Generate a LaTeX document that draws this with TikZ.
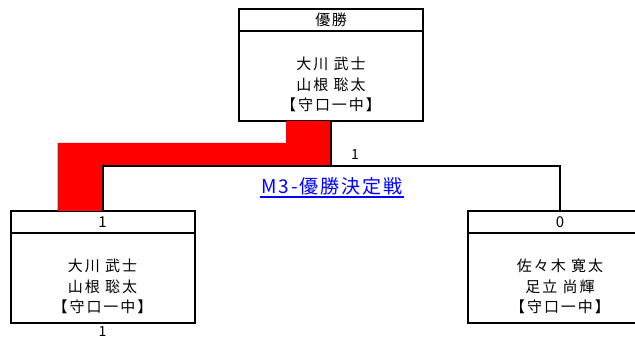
\documentclass[tikz,border=0pt]{standalone}
\usepackage{fontspec}
\setmainfont{Noto Sans CJK JP}
\usetikzlibrary{positioning}

\begin{document}
\begin{tikzpicture}[x=1pt,y=-1pt,
    head/.style={rectangle,draw,line width=2pt,outer sep=0pt,minimum width=184pt,minimum height=22pt,inner sep=0pt,font=\fontsize{15}{17}\selectfont\addfontfeature{LetterSpace=10}},
    body/.style={rectangle,draw,line width=2pt,outer sep=0pt,minimum width=184pt,minimum height=90pt,inner sep=0pt},
    names/.style={align=center,font=\fontsize{15}{20.5}\selectfont\addfontfeature{LetterSpace=13},inner sep=0pt},
    wire/.style={line width=2pt},
    score/.style={font=\fontsize{14}{16}\selectfont,inner sep=0pt},
    match/.style={text=blue,font=\fontsize{19}{22}\selectfont\addfontfeature{LetterSpace=10},inner sep=1pt}
]

\useasboundingbox (0,0) rectangle (635,339);
\clip (0,0) rectangle (635,339);

% champion
\node[head] (finalhead) at (331,20) {優勝};
\node[body, below=0pt of finalhead] (finalbody) {};
\node[names, above=9pt of finalbody.south] (finalnames) {大川 武士\\山根 聡太\\【守口一中】};

% left team
\node[head] (lefthead) at (102.5,222) {1};
\node[body, below=0pt of lefthead] (leftbody) {};
\node[names, above=9pt of leftbody.south] (leftnames) {大川 武士\\山根 聡太\\【守口一中】};
\node[score, below=3pt of leftbody.south] (leftscore) {1};

% right team
\node[head] (righthead) at (560,222) {0};
\node[body, below=0pt of righthead] (rightbody) {};
\node[names, above=9pt of rightbody.south] (rightnames) {佐々木 寛太\\足立 尚輝\\【守口一中】};

\coordinate (fork) at (331,166);

% winner path
\fill[red] ([xshift=-45pt]finalbody.south) -| (fork) -| (lefthead.north)
           -- ++(-45,0) |- ([xshift=-45pt,yshift=23pt]fork) -- cycle;

\draw[wire] (finalbody.south) -- (fork) -| (lefthead.north);
\draw[wire] (fork) -| (righthead.north);

\node[score] (finalscore) at (355,155) {1};
\node[match] (matchname) at (332,186) {M3-優勝決定戦};
\draw[blue, line width=1.2pt] ([yshift=-1pt]matchname.south west) -- ([yshift=-1pt]matchname.south east);

\end{tikzpicture}
\end{document}
